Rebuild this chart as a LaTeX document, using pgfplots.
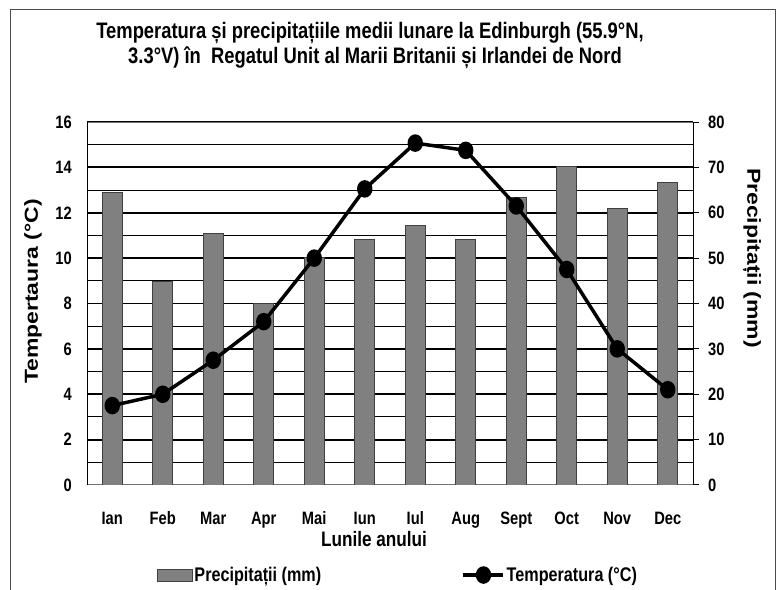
\documentclass[border=0pt]{standalone}
\usepackage{fontspec}
\setmainfont{Liberation Sans}[FakeStretch=0.82]
\newfontfamily\widefont{Liberation Sans}[FakeStretch=1.22]
\usepackage{pgfplots}
\pgfplotsset{compat=1.18}
\pgfplotsset{linelegend/.style={legend image code/.code={\draw[mark repeat=2,mark phase=2,##1] plot coordinates {(0bp,0bp) (20bp,0bp) (40bp,0bp)};}}}
\newcommand\fs[1]{\fontsize{#1}{#1}\selectfont\bfseries}
\begin{document}
\begin{tikzpicture}
\fill[white] (0,0) rectangle (782bp,590bp);
\useasboundingbox (0,0) rectangle (782bp,590bp);
\draw[black!70, line width=1bp] (10bp,-2bp) |- (775bp,580bp) -- (775bp,-2bp);
\begin{axis}[
  at={(87bp,105bp)}, anchor=south west,
  scale only axis, width=606bp, height=363bp,
  xmin=-0.5, xmax=11.5, ymin=0, ymax=80,
  xtick={0,...,11},
  xticklabels={Ian,Feb,Mar,Apr,Mai,Iun,Iul,Aug,Sept,Oct,Nov,Dec},
  x tick label style={anchor=base, yshift=-34bp, inner sep=0pt, font=\fs{18}},
  xtick style={draw=none},
  ytick={10,20,...,80}, minor ytick={5,15,...,75},
  extra y ticks={0}, extra y tick style={ymajorgrids=false},
  ytick pos=right,
  tick align=outside, major tick length=6bp, minor tick length=0pt,
  ytick style={black, line width=1bp},
  ymajorgrids, yminorgrids,
  major grid style={black, line width=1.8bp},
  minor grid style={black, line width=0.9bp},
  y tick label style={anchor=west, xshift=9bp, inner sep=0pt, font=\fs{18}},
  /pgf/number format/assume math mode=true,
  separate axis lines,
  y axis line style={black, line width=1bp},
  x axis line style={black!55, line width=1bp},
]
\addplot[ybar, bar width=20bp, fill=black!50, draw=black!75, line width=0.8bp]
  coordinates {(0,64.5) (1,44.8) (2,55.5) (3,40.0) (4,50.2) (5,54.2)
               (6,57.2) (7,54.2) (8,63.4) (9,70.2) (10,61.0) (11,66.7)};
\end{axis}
\begin{axis}[
  at={(87bp,105bp)}, anchor=south west,
  scale only axis, width=606bp, height=363bp,
  xmin=-0.5, xmax=11.5, ymin=0, ymax=16,
  hide x axis, axis y line*=left,
  ytick={0,2,...,16}, major tick length=0pt,
  y tick label style={anchor=east, xshift=-15bp, inner sep=0pt, font=\fs{18}},
  /pgf/number format/assume math mode=true,
  y axis line style={black, line width=1bp},
  legend columns=2,
  legend style={at={(axis description cs:0.1155,-0.248)}, anchor=west,
    draw=none, fill=none, inner sep=0pt, font=\fs{19.8},
    nodes={inner sep=1.5bp},
    /tikz/every even column/.append style={column sep=139bp}},
]
\addlegendimage{legend image code/.code={\draw[fill=black!50, draw=black!75, line width=0.8bp] (0bp,-6bp) rectangle (35bp,6bp);}}
\addlegendentry{Precipitații (mm)}
\addplot[black, line width=3.5bp, mark=*, mark size=7bp, mark options={xscale=0.85}, linelegend]
  coordinates {(0,3.5) (1,4.0) (2,5.5) (3,7.2) (4,10.0) (5,13.05)
               (6,15.07) (7,14.75) (8,12.3) (9,9.5) (10,6.0) (11,4.2)};
\addlegendentry{Temperatura (°C)}
\end{axis}
\node[anchor=base, font=\fs{22.5}] at (370bp,551.7bp) {Temperatura și precipitațiile medii lunare la Edinburgh (55.9°N,};
\node[anchor=base, font=\fs{22.5}] at (375bp,526bp) {3.3°V) în\ \ Regatul Unit al Marii Britanii și Irlandei de Nord};
\node[anchor=base, font=\fs{21}] at (374bp,43.3bp) {Lunile anului};
\node[rotate=90, anchor=center, font={\widefont\fontsize{18.9}{20}\selectfont\bfseries}] at (33bp,298.5bp) {Tempertaura (°C)};
\node[rotate=-90, anchor=center, font={\widefont\fontsize{18.9}{20}\selectfont\bfseries}] at (752bp,332bp) {Precipitații (mm)};
\end{tikzpicture}
\end{document}
